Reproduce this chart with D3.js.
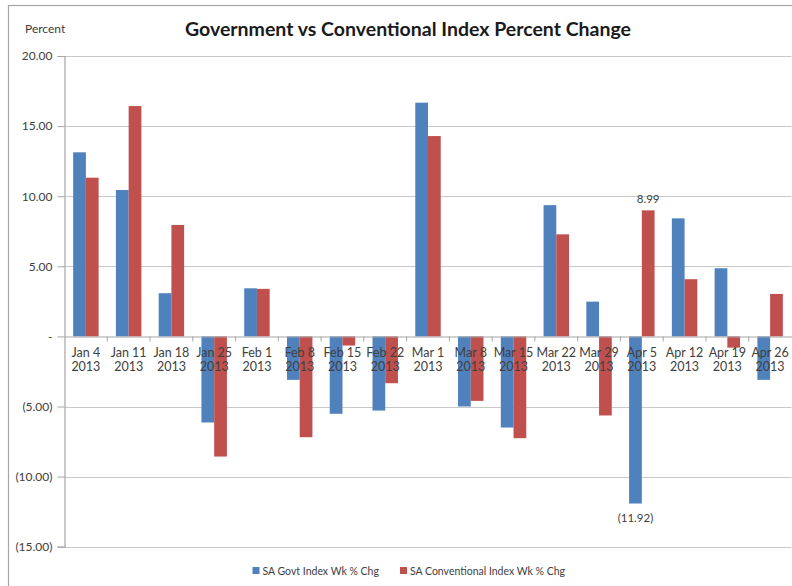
<!DOCTYPE html>
<html><head><meta charset="utf-8">
<script src="https://cdn.jsdelivr.net/npm/d3@7"></script>
<style>body{margin:0;background:#fff;} svg{display:block;font-family:Lato,"Open Sans",sans-serif;}</style>
</head><body>
<script>
const categories = ["Jan 4","Jan 11","Jan 18","Jan 25","Feb 1","Feb 8","Feb 15","Feb 22","Mar 1","Mar 8","Mar 15","Mar 22","Mar 29","Apr 5","Apr 12","Apr 19","Apr 26"];
const yearLabel = "2013";
const govtValues = [13.13, 10.44, 3.08, -6.14, 3.43, -3.10, -5.52, -5.29, 16.67, -5.00, -6.50, 9.36, 2.48, -11.92, 8.42, 4.86, -3.10];
const convValues = [11.32, 16.43, 7.95, -8.57, 3.39, -7.19, -0.65, -3.34, 14.29, -4.60, -7.26, 7.28, -5.64, 8.99, 4.08, -0.80, 3.03];
const seriesNames = ["SA Govt Index Wk % Chg", "SA Conventional Index Wk % Chg"];
const seriesColors = ["#4F81BD", "#C0504D"];
const yTicks = [20, 15, 10, 5, 0, -5, -10, -15];
const labeledPoints = [{series: 1, cat: "Apr 5"}, {series: 0, cat: "Apr 5"}];
const title = "Government vs Conventional Index Percent Change";
const yTitle = "Percent";

const W = 792, H = 586;
const svg = d3.select("body").append("svg").attr("width", W).attr("height", H);

// outer frame
svg.append("rect").attr("x", 8.5).attr("y", 5.5).attr("width", 800).attr("height", 600)
  .attr("fill", "none").attr("stroke", "#a6a6a6").attr("stroke-width", 1.2);

const plot = {left: 64.5, right: 791.5, top: 56, bottom: 546.7};
const x = d3.scaleBand().domain(categories).range([plot.left, plot.right]).padding(0);
const xs = d3.scaleBand().domain([0, 1]).range([0, x.bandwidth()]).paddingInner(0).paddingOuter(0.68);
const y = d3.scaleLinear().domain([-15, 20]).range([plot.bottom, plot.top]);

const fmt = v => v === 0 ? "-" : (v < 0 ? "(" + d3.format(".2f")(-v) + ")" : d3.format(".2f")(v));

// gridlines
svg.append("g").selectAll("line").data(yTicks.filter(t => t !== 0)).join("line")
  .attr("x1", plot.left).attr("x2", plot.right)
  .attr("y1", d => Math.round(y(d)) + 0.5).attr("y2", d => Math.round(y(d)) + 0.5)
  .attr("stroke", "#c8c8c8").attr("stroke-width", 1.2);

// y axis
const yAxis = d3.axisLeft(y).tickValues(yTicks).tickFormat(fmt).tickSize(7).tickPadding(5);
const gy = svg.append("g").attr("transform", `translate(${plot.left},0)`).call(yAxis);
gy.select(".domain").attr("stroke", "#a6a6a6").attr("stroke-width", 1.2);
gy.selectAll(".tick line").attr("stroke", "#a6a6a6");
gy.selectAll(".tick text").attr("font-size", 12).attr("fill", "#404040").attr("font-family", "Lato, sans-serif");

// bars
const series = [govtValues, convValues];
series.forEach((vals, si) => {
  svg.append("g").selectAll("rect").data(vals.map((v, i) => ({v, c: categories[i]}))).join("rect")
    .attr("x", d => x(d.c) + xs(si))
    .attr("width", xs.bandwidth())
    .attr("y", d => y(Math.max(0, d.v)))
    .attr("height", d => Math.abs(y(d.v) - y(0)))
    .attr("fill", seriesColors[si]);
});

// zero axis line + category ticks
const zeroY = Math.round(y(0)) + 0.5;
const xAxis = d3.axisBottom(x).tickSize(0).tickFormat("");
const gx = svg.append("g").attr("transform", `translate(0,${zeroY})`).call(xAxis);
gx.select(".domain").attr("stroke", "#a6a6a6").attr("stroke-width", 1.2);
svg.append("g").selectAll("line").data(categories.slice(1)).join("line")
  .attr("x1", d => x(d)).attr("x2", d => x(d))
  .attr("y1", zeroY).attr("y2", zeroY + 5).attr("stroke", "#a6a6a6");

// category labels (two lines)
const lbl = svg.append("g").selectAll("text").data(categories).join("text")
  .attr("x", d => x(d) + x.bandwidth() / 2).attr("y", zeroY + 20)
  .attr("text-anchor", "middle").attr("font-size", 12.5).attr("fill", "#404040");
lbl.append("tspan").text(d => d);
lbl.append("tspan").attr("x", d => x(d) + x.bandwidth() / 2).attr("dy", 14).text(yearLabel);

// data labels
labeledPoints.forEach(p => {
  const i = categories.indexOf(p.cat);
  const v = series[p.series][i];
  svg.append("text")
    .attr("x", x(p.cat) + xs(p.series) + xs.bandwidth() / 2)
    .attr("y", v >= 0 ? y(v) - 7 : y(v) + 18)
    .attr("text-anchor", "middle").attr("font-size", 11.5).attr("fill", "#404040")
    .text(fmt(v));
});

// title
svg.append("text").attr("x", 408).attr("y", 36).attr("text-anchor", "middle")
  .attr("font-size", 19.5).attr("font-weight", "bold").attr("fill", "#1a1a1a").text(title);
svg.append("text").attr("x", 25).attr("y", 33).attr("font-size", 12).attr("fill", "#404040").text(yTitle);

// legend
const legendX = [252.5, 400];
seriesNames.forEach((n, i) => {
  svg.append("rect").attr("x", legendX[i]).attr("y", 567).attr("width", 7).attr("height", 7).attr("fill", seriesColors[i]);
  svg.append("text").attr("x", legendX[i] + 10).attr("y", 575).attr("font-size", 10.5)
    .attr("fill", "#404040").text(n);
});
</script>
</body></html>
